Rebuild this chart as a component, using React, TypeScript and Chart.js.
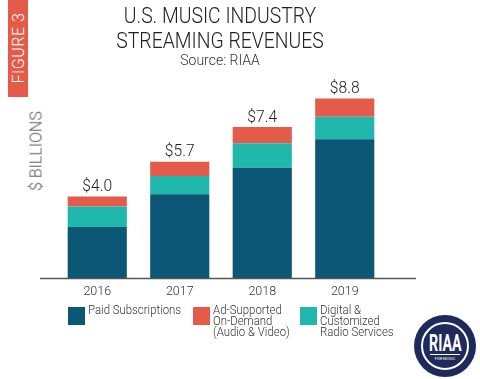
import React, { useEffect, useRef } from "react";
import { Chart, registerables } from "chart.js";

Chart.register(...registerables);

const years = ["2016", "2017", "2018", "2019"];
const paidSubscriptions = [2.5, 4.1, 5.4, 6.8];
const digitalRadio = [1.0, 0.9, 1.2, 1.1];
const adSupported = [0.5, 0.7, 0.8, 0.9];
const totalLabels = ["$4.0", "$5.7", "$7.4", "$8.8"];

const NAVY = "#0c5676";
const TEAL = "#20b8ad";
const RED = "#e45c49";
const FONT = "Roboto, 'DejaVu Sans', sans-serif";

const legendItems = [
  { color: NAVY, lines: ["Paid Subscriptions"], left: 68 },
  { color: RED, lines: ["Ad-Supported", "On-Demand", "(Audio & Video)"], left: 193 },
  { color: TEAL, lines: ["Digital &", "Customized", "Radio Services"], left: 300 },
];

const totalsPlugin = {
  id: "totals",
  afterDatasetsDraw(chart: any) {
    const ctx = chart.ctx;
    const last = chart.data.datasets.length - 1;
    const meta = chart.getDatasetMeta(last);
    ctx.save();
    ctx.font = `300 17px ${FONT}`;
    ctx.fillStyle = "#222";
    ctx.textAlign = "center";
    ctx.textBaseline = "bottom";
    meta.data.forEach((el: any, i: number) => {
      ctx.save();
      ctx.translate(el.x, el.y - 1);
      ctx.scale(0.92, 1);
      ctx.fillText(totalLabels[i], 0, 0);
      ctx.restore();
    });
    ctx.restore();
  },
};

const baselinePlugin = {
  id: "baseline",
  afterDatasetsDraw(chart: any) {
    const ctx = chart.ctx;
    const y = chart.scales.y.getPixelForValue(0);
    const { left, right } = chart.chartArea;
    ctx.save();
    ctx.strokeStyle = "#555";
    ctx.lineWidth = 1.5;
    ctx.beginPath();
    ctx.moveTo(left - 16, y + 0.5);
    ctx.lineTo(right + 30, y + 0.5);
    ctx.stroke();
    ctx.restore();
  },
};

export default function App() {
  const ref = useRef<HTMLCanvasElement | null>(null);
  useEffect(() => {
    document.body.style.margin = "0";
    const chart = new Chart(ref.current!, {
      type: "bar",
      data: {
        labels: years,
        datasets: [
          { label: "Paid Subscriptions", data: paidSubscriptions, backgroundColor: NAVY },
          { label: "Digital & Customized Radio Services", data: digitalRadio, backgroundColor: TEAL },
          { label: "Ad-Supported On-Demand (Audio & Video)", data: adSupported, backgroundColor: RED },
        ],
      },
      options: {
        animation: false,
        responsive: false,
        maintainAspectRatio: false,
        layout: { padding: { left: 56, right: 94, top: 74, bottom: 74 } },
        datasets: { bar: { categoryPercentage: 1, barPercentage: 0.717 } },
        plugins: { legend: { display: false }, tooltip: { enabled: false }, title: { display: false } },
        scales: {
          x: {
            stacked: true,
            grid: { display: false, drawTicks: false },
            border: { display: false },
            ticks: { color: "#333", font: { family: FONT, size: 12.5, weight: "300" }, padding: 6 },
          },
          y: { stacked: true, display: false, min: 0, max: 10 },
        },
      },
      plugins: [totalsPlugin, baselinePlugin],
    });
    return () => chart.destroy();
  }, []);

  return (
    <div style={{ position: "relative", width: 480, height: 379, background: "#fff", overflow: "hidden", fontFamily: FONT, fontWeight: 300 }}>
      <canvas ref={ref} width={480} height={379} style={{ position: "absolute", left: 0, top: 0 }} />
      <div style={{ position: "absolute", left: 8, top: 0, width: 20, height: 97, background: RED }} />
      <div
        style={{
          position: "absolute", left: 18, top: 48, transform: "translate(-50%, -50%) rotate(-90deg)",
          color: "#fff", fontSize: 16, whiteSpace: "nowrap", letterSpacing: 0.5,
        }}
      >
        FIGURE 3
      </div>
      <div
        style={{
          position: "absolute", left: 0, top: 3, width: 440, textAlign: "center", color: "#222", fontSize: 22,
          lineHeight: "25px", transform: "scaleX(0.88)", transformOrigin: "220px 0",
        }}
      >
        U.S. MUSIC INDUSTRY
        <br />
        STREAMING REVENUES
      </div>
      <div style={{ position: "absolute", left: 0, top: 52, width: 440, textAlign: "center", color: "#333", fontSize: 14, lineHeight: "16px" }}>
        Source: RIAA
      </div>
      <div
        style={{
          position: "absolute", left: 36, top: 151, transform: "translate(-50%, -50%) rotate(-90deg)",
          color: "#555", fontSize: 16, whiteSpace: "nowrap",
        }}
      >
        $ BILLIONS
      </div>
      {legendItems.map((it) => (
        <div key={it.left} style={{ position: "absolute", left: it.left, top: 307 }}>
          <div style={{ position: "absolute", left: 0, top: 0, width: 17, height: 18, background: it.color }} />
          <div
            style={{
              position: "absolute", left: 20, top: -2, fontSize: 12, lineHeight: "11px", color: "#333",
              whiteSpace: "nowrap", transform: "scaleX(0.95)", transformOrigin: "0 0",
            }}
          >
            {it.lines.map((l) => (
              <div key={l}>{l}</div>
            ))}
          </div>
        </div>
      ))}
      <div
        style={{
          position: "absolute", left: 414, top: 315, width: 62, height: 62, borderRadius: "50%", background: "#1f2a5c",
          display: "flex", alignItems: "center", justifyContent: "center",
        }}
      >
        <div
          style={{
            width: 48, height: 48, borderRadius: "50%", border: "2px solid #fff", boxSizing: "border-box",
            display: "flex", flexDirection: "column", alignItems: "center", justifyContent: "center", color: "#fff",
          }}
        >
          <div style={{ fontSize: 23, fontWeight: 700, lineHeight: "19px", transform: "scaleX(0.62)", marginTop: 2 }}>RIAA</div>
          <div style={{ width: 30, height: 1, background: "#fff", marginTop: 1 }} />
          <div style={{ fontSize: 4, lineHeight: "5px", marginTop: 1, fontWeight: 400 }}>FOR MUSIC</div>
        </div>
      </div>
    </div>
  );
}
